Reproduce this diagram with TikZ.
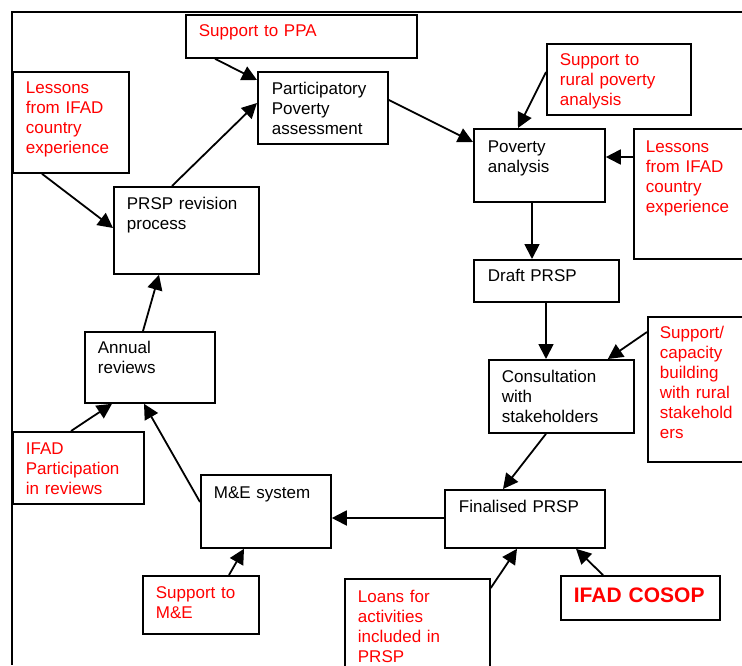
\documentclass[tikz,border=0pt]{standalone}
\usepackage{fontspec}
\setmainfont{Liberation Sans}
\usepackage{tikz}
\usetikzlibrary{calc}
\usetikzlibrary{arrows.meta}
\tikzset{every picture/.style={line width=1.8pt}}

\begin{document}
\begin{tikzpicture}[x=1pt,y=-1pt,bx/.style={draw,inner sep=0pt,anchor=north west},tx/.style={inner sep=0pt,anchor=base west,text width=160pt,align=left,font=\fontsize{17}{20}\selectfont},rd/.style={tx,text=red},ar/.style={-{Triangle[length=15pt,width=15pt]}}]
\useasboundingbox (0,0) rectangle (742,665);
\clip (0,0) rectangle (742,665);
\draw (742,12) -- (12,12) -- (12,665);
\node (ppasup) at (185,14) [bx,minimum width=231pt,minimum height=43pt] {};
\node (ppasupt) at ($(ppasup.north west)+(13,22)$) [rd] {Support to PPA};
\node (les1) at (12,71) [bx,minimum width=116pt,minimum height=101pt] {};
\node (les1t) at ($(les1.north west)+(13,22)$) [rd] {Lessons\\from IFAD\\country\\experience};
\node (ppa) at (257,71) [bx,minimum width=130pt,minimum height=72pt] {};
\node (ppat) at ($(ppa.north west)+(14,23)$) [tx] {Participatory\\Poverty\\assessment};
\node (rev) at (113,186) [bx,minimum width=145pt,minimum height=87pt] {};
\node (revt) at ($(rev.north west)+(13,23)$) [tx] {PRSP revision\\process};
\node (pa) at (473,128) [bx,minimum width=131pt,minimum height=73pt] {};
\node (pat) at ($(pa.north west)+(14,24)$) [tx] {Poverty\\analysis};
\node (rpasup) at (546,43) [bx,minimum width=144pt,minimum height=71pt] {};
\node (rpasupt) at ($(rpasup.north west)+(13,22)$) [rd] {Support to\\rural poverty\\analysis};
\node (les2) at (633,128) [bx,minimum width=140pt,minimum height=130pt] {};
\node (les2t) at ($(les2.north west)+(12,24)$) [rd] {Lessons\\from IFAD\\country\\experience};
\node (draft) at (473,259) [bx,minimum width=145pt,minimum height=42pt] {};
\node (draftt) at ($(draft.north west)+(14,22)$) [tx] {Draft PRSP};
\node (cons) at (488,359) [bx,minimum width=145pt,minimum height=73pt] {};
\node (const) at ($(cons.north west)+(13,23)$) [tx] {Consultation\\with\\stakeholders};
\node (capsup) at (647,316) [bx,minimum width=120pt,minimum height=145pt] {};
\node (capsupt) at ($(capsup.north west)+(12,22)$) [rd] {Support/\\capacity\\building\\with rural\\stakehold\\ers};
\node (fin) at (444,489) [bx,minimum width=160pt,minimum height=58pt] {};
\node (fint) at ($(fin.north west)+(14,23)$) [tx] {Finalised PRSP};
\node (cosop) at (560,575) [bx,minimum width=159pt,minimum height=44pt] {};
\node (cosopt) at ($(cosop.north west)+(13,27)$) [rd,font=\fontsize{21}{25}\selectfont\bfseries] {IFAD COSOP};
\node (loans) at (344,578) [bx,minimum width=145pt,minimum height=120pt] {};
\node (loanst) at ($(loans.north west)+(13,24)$) [rd] {Loans for\\activities\\included in\\PRSP};
\node (me) at (200,474) [bx,minimum width=130pt,minimum height=73pt] {};
\node (met) at ($(me.north west)+(13,24)$) [tx] {M\&E system};
\node (mesup) at (142,575) [bx,minimum width=116pt,minimum height=58pt] {};
\node (mesupt) at ($(mesup.north west)+(13,23)$) [rd] {Support to\\M\&E};
\node (ann) at (84,331) [bx,minimum width=130pt,minimum height=71pt] {};
\node (annt) at ($(ann.north west)+(13,22)$) [tx] {Annual\\reviews};
\node (ifadp) at (12,431) [bx,minimum width=131pt,minimum height=72pt] {};
\node (ifadpt) at ($(ifadp.north west)+(13,23)$) [rd] {IFAD\\Participation\\in reviews};
\draw[ar] ($(ppasup.south west)+(30,0)$) -- ($(ppa.north west)+(0,9)$);
\draw[ar] ($(rev.north west)+(59,0)$) -- ($(ppa.north west)+(0,32)$);
\draw[ar] ($(les1.south west)+(30,0)$) -- ($(rev.north west)+(0,42)$);
\draw[ar] ($(ppa.north east)+(0,29)$) -- ($(pa.north west)+(0,14)$);
\draw[ar] ($(rpasup.north west)+(0,29)$) -- ($(pa.north west)+(45,0)$);
\draw[ar] ($(les2.north west)+(0,29)$) -- ($(pa.north east)+(0,29)$);
\draw[ar] ($(pa.south west)+(59,0)$) -- ($(draft.north west)+(59,0)$);
\draw[ar] ($(draft.south west)+(73,0)$) -- ($(cons.north west)+(58,0)$);
\draw[ar] ($(capsup.north west)+(0,16)$) -- ($(cons.north east)+(-27,0)$);
\draw[ar] ($(cons.south west)+(58,0)$) -- ($(fin.north west)+(59,0)$);
\draw[ar] ($(cosop.north west)+(43,0)$) -- ($(fin.south west)+(132,0)$);
\draw[ar] ($(loans.north east)+(0,10)$) -- ($(fin.south west)+(73,0)$);
\draw[ar] ($(fin.north west)+(0,29)$) -- ($(me.north east)+(0,44)$);
\draw[ar] ($(mesup.north west)+(87,0)$) -- ($(me.south west)+(44,0)$);
\draw[ar] ($(me.north west)+(0,28)$) -- ($(ann.south west)+(60,0)$);
\draw[ar] ($(ifadp.north west)+(59,0)$) -- ($(ann.south west)+(28,0)$);
\draw[ar] ($(ann.north west)+(59,0)$) -- ($(rev.south west)+(46,0)$);
\end{tikzpicture}
\end{document}
